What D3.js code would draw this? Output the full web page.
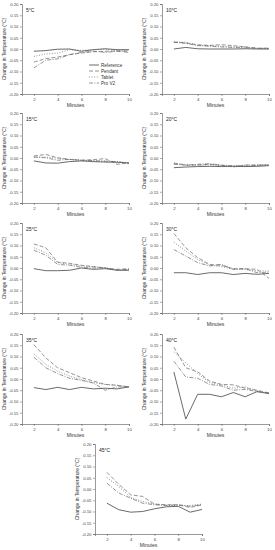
<!DOCTYPE html>
<html>
<head>
<meta charset="utf-8">
<script src="https://cdn.jsdelivr.net/npm/d3@7"></script>
<style>
  body { margin: 0; background: #fff; }
  svg { display: block; font-family: "Liberation Sans", Arial, sans-serif; }
</style>
</head>
<body>
<div id="chart"></div>
<script>
"use strict";

// minutes sampled, one value per minute
const minutes = [2, 3, 4, 5, 6, 7, 8, 9, 10];
const temps = ["5°C", "10°C", "15°C", "20°C", "25°C", "30°C", "35°C", "40°C", "45°C"];
const yTicks = [0.20, 0.15, 0.10, 0.05, 0.00, -0.05, -0.10, -0.15, -0.20];
const xTicks = [2, 4, 6, 8, 10];
const seriesNames = ["Reference", "Pendant", "Tablet", "Pro V2"];

// change in temperature, one row per panel (5..45 °C)
const reference = [
  [-0.010, -0.007, -0.001, 0.000, -0.010, -0.003, 0.001, -0.003, -0.003],
  [0.000, 0.007, 0.001, 0.000, 0.000, 0.000, 0.001, 0.000, 0.000],
  [-0.013, -0.022, -0.023, -0.016, -0.013, -0.016, -0.018, -0.019, -0.022],
  [-0.043, -0.040, -0.038, -0.037, -0.038, -0.037, -0.038, -0.037, -0.034],
  [-0.003, -0.012, -0.012, -0.010, 0.000, -0.006, -0.003, -0.010, -0.010],
  [-0.021, -0.021, -0.029, -0.021, -0.021, -0.029, -0.024, -0.028, -0.024],
  [-0.038, -0.047, -0.037, -0.047, -0.037, -0.044, -0.041, -0.044, -0.035],
  [0.031, -0.178, -0.068, -0.068, -0.079, -0.060, -0.079, -0.056, -0.065],
  [-0.063, -0.092, -0.103, -0.100, -0.088, -0.079, -0.077, -0.103, -0.091]
];
const pendant = [
  [-0.058, -0.043, -0.036, -0.025, -0.018, -0.012, -0.010, -0.009, -0.010],
  [0.031, 0.027, 0.019, 0.016, 0.019, 0.015, 0.009, 0.003, 0.004],
  [0.009, 0.016, 0.001, -0.006, -0.010, -0.007, -0.003, -0.028, -0.022],
  [-0.022, -0.032, -0.031, -0.028, -0.032, -0.040, -0.031, -0.032, -0.031],
  [0.107, 0.090, 0.026, 0.021, 0.012, 0.006, 0.000, -0.006, -0.003],
  [0.153, 0.090, 0.046, 0.016, 0.012, -0.003, -0.003, -0.006, -0.046],
  [0.153, 0.094, 0.050, 0.028, 0.006, -0.009, -0.024, -0.028, -0.035],
  [0.141, 0.050, 0.032, -0.009, -0.024, -0.026, -0.041, -0.050, -0.062],
  [0.074, 0.021, -0.026, -0.033, -0.067, -0.070, -0.070, -0.082, -0.070]
];
const tablet = [
  [-0.033, -0.022, -0.018, -0.003, -0.006, -0.003, -0.001, -0.006, -0.006],
  [0.031, 0.030, 0.016, 0.015, 0.012, 0.009, 0.004, 0.003, 0.001],
  [0.004, 0.004, -0.001, -0.007, -0.010, -0.013, -0.013, -0.016, -0.022],
  [-0.025, -0.029, -0.032, -0.031, -0.034, -0.037, -0.032, -0.031, -0.031],
  [0.090, 0.068, 0.024, 0.016, 0.009, 0.006, 0.001, -0.009, -0.009],
  [0.115, 0.075, 0.038, 0.012, 0.006, -0.006, -0.006, -0.013, -0.013],
  [0.112, 0.065, 0.035, 0.013, -0.003, -0.016, -0.024, -0.028, -0.035],
  [0.121, 0.072, 0.024, -0.016, -0.026, -0.041, -0.035, -0.053, -0.065],
  [0.051, 0.011, -0.038, -0.055, -0.067, -0.073, -0.074, -0.073, -0.067]
];
const proV2 = [
  [-0.084, -0.050, -0.044, -0.025, -0.015, -0.010, -0.015, -0.010, -0.015],
  [0.030, 0.025, 0.015, 0.012, 0.009, 0.007, 0.009, 0.003, 0.003],
  [0.004, 0.001, -0.010, -0.006, -0.010, -0.012, -0.015, -0.016, -0.025],
  [-0.028, -0.032, -0.028, -0.025, -0.032, -0.034, -0.037, -0.032, -0.031],
  [0.079, 0.057, 0.016, 0.012, 0.003, 0.000, 0.000, -0.009, -0.006],
  [0.082, 0.053, 0.024, 0.009, 0.016, -0.006, -0.003, -0.021, -0.018],
  [0.097, 0.050, 0.024, 0.003, -0.006, -0.018, -0.050, -0.035, -0.035],
  [0.079, 0.009, 0.003, -0.024, -0.031, -0.050, -0.046, -0.056, -0.062],
  [0.026, -0.018, -0.041, -0.063, -0.070, -0.073, -0.070, -0.077, -0.070]
];

const allSeries = [reference, pendant, tablet, proV2];
const styles = [
  { color: "#444", dash: null, w: 0.8 },
  { color: "#666", dash: "4,2", w: 0.7 },
  { color: "#666", dash: "1,1.6", w: 0.7 },
  { color: "#666", dash: "4,1.4,1,1.4", w: 0.7 }
];

const width = 275, height = 550;
const svg = d3.select("#chart").append("svg")
  .attr("width", width).attr("height", height);

// panel plot-area positions
const rowTops = [4, 113, 223, 334, 444];
const colLefts = [22, 162];
const pw = 107, ph = 90;

function panelPos(i) {
  if (i === 8) return { x: 95, y: rowTops[4] };
  return { x: colLefts[i % 2], y: rowTops[Math.floor(i / 2)] };
}

const fmt = d => d.toFixed(2);

temps.forEach((t, i) => {
  const p = panelPos(i);
  const g = svg.append("g").attr("transform", `translate(${p.x},${p.y})`);

  const x = d3.scaleLinear().domain([1, 10]).range([0, pw]);
  const y = d3.scaleLinear().domain([-0.20, 0.20]).range([ph, 0]);

  const yAxis = g.append("g")
    .call(d3.axisLeft(y).tickValues(yTicks).tickFormat(fmt).tickSize(2).tickPadding(1.5));
  const xAxis = g.append("g").attr("transform", `translate(0,${ph})`)
    .call(d3.axisBottom(x).tickValues(xTicks).tickSize(2).tickPadding(2));

  [yAxis, xAxis].forEach(a => {
    a.selectAll("text").style("font-size", "4.3px").attr("fill", "#444");
    a.selectAll("line").attr("stroke", "#555").attr("stroke-width", 0.5);
    a.select(".domain").attr("stroke", "#555").attr("stroke-width", 0.6);
  });

  g.append("text")
    .attr("transform", `translate(${-16},${ph / 2}) rotate(-90)`)
    .attr("text-anchor", "middle")
    .style("font-size", "5px")
    .attr("fill", "#333")
    .text("Change in Temperature (°C)");

  g.append("text")
    .attr("x", pw / 2).attr("y", ph + 13)
    .attr("text-anchor", "middle")
    .style("font-size", "5px")
    .attr("fill", "#333")
    .text("Minutes");

  g.append("text")
    .attr("x", 4).attr("y", 8)
    .style("font-size", "5px")
    .attr("fill", "#222")
    .text(t);

  const line = d3.line()
    .x((d, k) => x(minutes[k]))
    .y(d => y(d));

  allSeries.forEach((s, k) => {
    g.append("path")
      .datum(s[i])
      .attr("fill", "none")
      .attr("stroke", styles[k].color)
      .attr("stroke-width", styles[k].w)
      .attr("stroke-dasharray", styles[k].dash)
      .attr("d", line);
  });

  // legend only in the first panel
  if (i === 0) {
    const lg = g.append("g").attr("transform", `translate(${89 - p.x},${65 - p.y})`);
    seriesNames.forEach((n, k) => {
      lg.append("line")
        .attr("x1", 0).attr("x2", 10)
        .attr("y1", k * 6).attr("y2", k * 6)
        .attr("stroke", styles[k].color)
        .attr("stroke-width", styles[k].w)
        .attr("stroke-dasharray", styles[k].dash);
      lg.append("text")
        .attr("x", 12).attr("y", k * 6 + 1.7)
        .style("font-size", "4.6px")
        .attr("fill", "#333")
        .text(n);
    });
  }
});
</script>
</body>
</html>
